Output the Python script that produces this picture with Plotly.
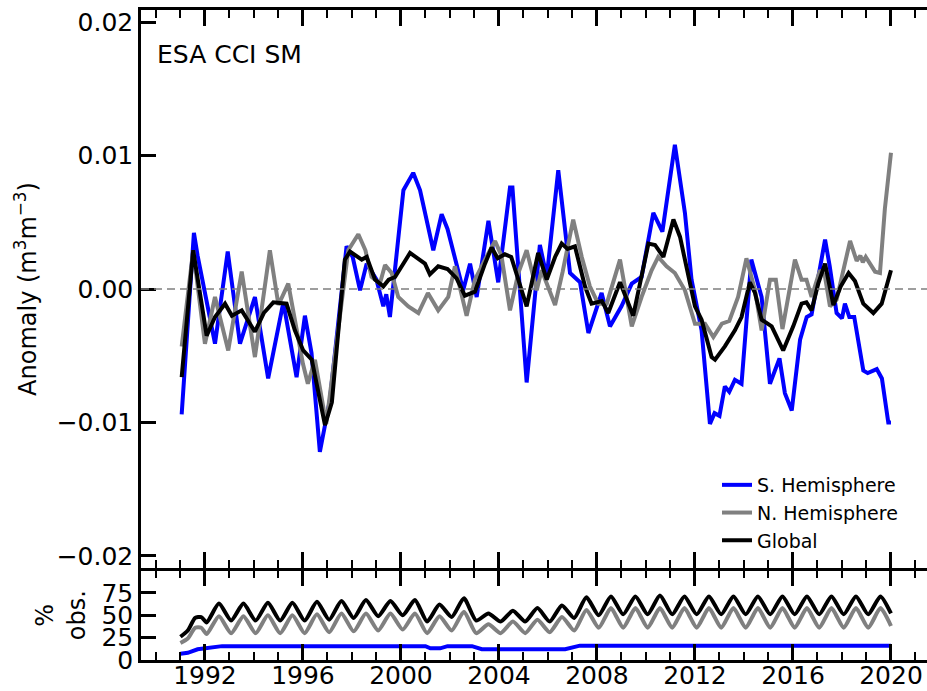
import plotly.graph_objects as go
from plotly.subplots import make_subplots

# ---------------- Data ----------------
sh_years = [1991.05, 1991.55, 1991.7, 1992.41, 1992.93, 1993.43, 1994.04, 1994.58, 1995.2, 1995.74,
            1996.08, 1996.35, 1996.69, 1997.1, 1997.78, 1998.03, 1998.33, 1998.6, 1999.0, 1999.28,
            1999.4, 1999.55, 2000.1, 2000.5, 2000.78, 2001.32, 2001.66, 2001.9, 2002.54, 2002.82,
            2003.09, 2003.57, 2003.97, 2004.45, 2004.55, 2005.13, 2005.67, 2005.95, 2006.42, 2006.9,
            2007.31, 2007.65, 2008.19, 2008.53, 2009.0, 2009.42, 2009.82, 2010.3, 2010.67, 2011.18,
            2011.59, 2011.86, 2012.27, 2012.61, 2012.8, 2013.0, 2013.22, 2013.4, 2013.63, 2013.9,
            2014.3, 2014.72, 2015.06, 2015.45, 2015.67, 2015.95, 2016.29, 2016.56, 2016.76, 2017.31,
            2017.5, 2017.78, 2018.0, 2018.12, 2018.3, 2018.5, 2018.87, 2019.05, 2019.42, 2019.63,
            2019.89, 2020.0]
sh_vals = [-0.0094, 0.0042, 0.0025, -0.0041, 0.0028, -0.0041, -0.0006, -0.0067, -0.0010, -0.0066,
           -0.0020, -0.0048, -0.0122, -0.0083, 0.0032, 0.0024, -0.0001, 0.0019, 0.0007, -0.0013,
           -0.0004, -0.0021, 0.0074, 0.0087, 0.0074, 0.0029, 0.0056, 0.0045, -0.0001, 0.0019,
           -0.0006, 0.0051, 0.0005, 0.0076, 0.0076, -0.0070, 0.0033, 0.0009, 0.0089, 0.0012,
           0.0005, -0.0033, -0.0003, -0.0028, -0.0013, 0.0004, 0.0009, 0.0057, 0.0043, 0.0108,
           0.0057, 0.0007, -0.0031, -0.0101, -0.0093, -0.0095, -0.0073, -0.0077, -0.0068, -0.0071,
           0.0022, -0.0006, -0.0071, -0.0052, -0.0078, -0.0091, -0.0038, -0.0021, -0.0019, 0.0037,
           0.0017, -0.0018, -0.0022, -0.0011, -0.0021, -0.0021, -0.0061, -0.0063, -0.0060, -0.0067,
           -0.0100, -0.0100]

nh_years = [1991.05, 1991.52, 1992.0, 1992.41, 1992.95, 1993.5, 1994.04, 1994.65, 1995.0, 1995.4,
            1996.0, 1996.2, 1996.49, 1996.95, 1997.85, 1998.26, 1998.55, 1998.8, 1999.14, 1999.35,
            1999.62, 1999.89, 2000.3, 2000.71, 2001.1, 2001.52, 2001.93, 2002.2, 2002.68, 2003.02,
            2003.43, 2003.84, 2004.1, 2004.45, 2004.79, 2005.13, 2005.54, 2005.74, 2006.29, 2006.6,
            2007.03, 2007.38, 2007.71, 2008.05, 2008.4, 2008.94, 2009.42, 2009.82, 2010.23, 2010.5,
            2010.84, 2011.18, 2011.59, 2012.0, 2012.41, 2012.75, 2013.1, 2013.4, 2013.76, 2014.1,
            2014.45, 2014.72, 2015.06, 2015.3, 2015.57, 2016.08, 2016.35, 2016.55, 2016.76, 2017.1,
            2017.3, 2017.51, 2017.78, 2018.33, 2018.6, 2018.75, 2018.85, 2018.97, 2019.35, 2019.55,
            2019.75, 2020.0]
nh_vals = [-0.0043, 0.0029, -0.0041, -0.0006, -0.0046, 0.0013, -0.0051, 0.0029, -0.0012, 0.0004,
           -0.0056, -0.0071, -0.0053, -0.0101, 0.0029, 0.0041, 0.0029, 0.0009, 0.0004, 0.0018,
           0.0012, -0.0006, -0.0013, -0.0018, -0.0003, -0.0016, -0.0006, 0.0017, -0.0020, 0.0007,
           0.0022, 0.0036, 0.0025, -0.0016, 0.0012, 0.0029, -0.0001, 0.0014, -0.0012, 0.0013,
           0.0052, 0.0024, 0.0002, -0.0011, -0.0011, 0.0022, -0.0028, -0.0006, 0.0014, 0.0024,
           0.0017, 0.0012, -0.0001, -0.0026, -0.0026, -0.0036, -0.0026, -0.0024, -0.0006, 0.0023,
           -0.0001, -0.0031, 0.0007, 0.0007, -0.0030, 0.0022, 0.0007, 0.0007, -0.0006, 0.0014,
           0.0010, -0.0013, -0.0008, 0.0036, 0.0021, 0.0025, 0.0020, 0.0024, 0.0013, 0.0012,
           0.0060, 0.0102]

gl_years = [1991.05, 1991.52, 1992.07, 1992.41, 1992.82, 1993.1, 1993.5, 1994.04, 1994.4, 1994.79,
            1995.33, 1995.67, 1996.01, 1996.36, 1996.9, 1997.18, 1997.71, 1997.92, 1998.4, 1998.6,
            1998.94, 1999.28, 1999.5, 1999.76, 2000.37, 2000.98, 2001.18, 2001.52, 2001.9, 2002.27,
            2002.61, 2003.02, 2003.43, 2003.7, 2003.95, 2004.24, 2004.5, 2004.79, 2005.13, 2005.6,
            2005.95, 2006.29, 2006.56, 2006.8, 2007.1, 2007.51, 2007.78, 2008.2, 2008.46, 2008.94,
            2009.48, 2010.1, 2010.37, 2010.71, 2011.12, 2011.39, 2011.73, 2012.0, 2012.27, 2012.68,
            2012.82, 2013.22, 2013.63, 2013.9, 2014.24, 2014.45, 2014.72, 2015.13, 2015.6, 2016.01,
            2016.35, 2016.55, 2016.76, 2017.03, 2017.31, 2017.65, 2017.95, 2018.27, 2018.53, 2018.87,
            2019.28, 2019.62, 2020.0]
gl_vals = [-0.0066, 0.0029, -0.0035, -0.0021, -0.0011, -0.0020, -0.0016, -0.0032, -0.0018, -0.0010,
           -0.0011, -0.0031, -0.0046, -0.0053, -0.0102, -0.0085, 0.0022, 0.0028, 0.0022, 0.0024,
           0.0007, 0.0002, 0.0007, 0.0009, 0.0027, 0.0019, 0.0011, 0.0017, 0.0015, 0.0008,
           -0.0005, -0.0002, 0.0019, 0.0031, 0.0023, 0.0026, 0.0024, 0.0008, -0.0013, 0.0027,
           0.0007, 0.0024, 0.0034, 0.0030, 0.0032, 0.0002, -0.0011, -0.0009, -0.0018, 0.0005,
           -0.0020, 0.0034, 0.0033, 0.0024, 0.0052, 0.0039, 0.0009, -0.0013, -0.0023, -0.0051,
           -0.0053, -0.0043, -0.0031, -0.0021, 0.0005, -0.0003, -0.0023, -0.0028, -0.0046, -0.0028,
           -0.0011, -0.0010, -0.0016, 0.0004, 0.0019, -0.0012, 0.0002, 0.0012, 0.0006, -0.0011,
           -0.0018, -0.0011, 0.0014]

# % observations panel
obs_years = [1991.0, 1991.3, 1991.6, 1991.85,
             1992.07, 1992.57, 1993.07, 1993.57, 1994.07, 1994.57, 1995.07, 1995.57,
             1996.07, 1996.57, 1997.07, 1997.57, 1998.07, 1998.57, 1999.07, 1999.57,
             2000.07, 2000.57, 2001.07, 2001.57, 2002.07, 2002.57, 2003.07, 2003.57,
             2004.07, 2004.57, 2005.07, 2005.57, 2006.07, 2006.57, 2007.07, 2007.57,
             2008.07, 2008.57, 2009.07, 2009.57, 2010.07, 2010.57, 2011.07, 2011.57,
             2012.07, 2012.57, 2013.07, 2013.57, 2014.07, 2014.57, 2015.07, 2015.57,
             2016.07, 2016.57, 2017.07, 2017.57, 2018.07, 2018.57, 2019.07, 2019.57,
             2020.0]
gl_obs = [26, 33, 47, 48,
          42, 63, 44, 63, 44, 64, 44, 64,
          44, 65, 45, 66, 47, 67, 49, 66,
          50, 67, 43, 62, 48, 69, 44, 52,
          43, 55, 43, 58, 43, 61, 47, 70,
          50, 71, 51, 71, 51, 72, 51, 71,
          51, 71, 51, 71, 51, 71, 51, 71,
          51, 71, 51, 71, 51, 71, 51, 71,
          52]
nh_obs = [19, 24, 36, 36,
          29, 49, 30, 49, 30, 50, 30, 50,
          30, 51, 31, 52, 32, 52, 33, 52,
          34, 52, 30, 49, 33, 54, 30, 40,
          30, 43, 30, 45, 31, 48, 33, 56,
          36, 58, 36, 58, 36, 58, 36, 58,
          36, 58, 36, 58, 36, 58, 36, 58,
          36, 58, 36, 58, 36, 58, 36, 58,
          38]
sh_obs_years = [1991.0, 1991.3, 1991.7, 1992.2, 1992.7, 2001.0, 2001.2, 2001.6, 2001.9,
                2002.9, 2003.3, 2006.7, 2007.3, 2020.0]
sh_obs = [7, 8, 12, 14, 15.5, 15.5, 13, 13, 15.5, 15.5, 12, 12, 16, 16]

y_tickvals = [-0.02, -0.01, 0.0, 0.01, 0.02]
y_ticktext = ["\u22120.02", "\u22120.01", "0.00", "0.01", "0.02"]
obs_tickvals = [0, 25, 50, 75]
x_tickvals = [1992, 1996, 2000, 2004, 2008, 2012, 2016, 2020]

C_SH = "#0000ff"
C_NH = "#808080"
C_GL = "#000000"
FONT = "DejaVu Sans"
LW = 4
AXW = 2.5

fig = make_subplots(rows=2, cols=1, shared_xaxes=True, vertical_spacing=0)

fig.add_trace(go.Scatter(x=sh_years, y=sh_vals, mode="lines", name="S. Hemisphere",
                         line=dict(color=C_SH, width=LW)), row=1, col=1)
fig.add_trace(go.Scatter(x=nh_years, y=nh_vals, mode="lines", name="N. Hemisphere",
                         line=dict(color=C_NH, width=LW)), row=1, col=1)
fig.add_trace(go.Scatter(x=gl_years, y=gl_vals, mode="lines", name="Global",
                         line=dict(color=C_GL, width=LW)), row=1, col=1)

fig.add_trace(go.Scatter(x=sh_obs_years, y=sh_obs, mode="lines", showlegend=False,
                         line=dict(color=C_SH, width=LW)), row=2, col=1)
fig.add_trace(go.Scatter(x=obs_years, y=nh_obs, mode="lines", showlegend=False,
                         line=dict(color=C_NH, width=LW, shape="spline", smoothing=0.6)), row=2, col=1)
fig.add_trace(go.Scatter(x=obs_years, y=gl_obs, mode="lines", showlegend=False,
                         line=dict(color=C_GL, width=LW, shape="spline", smoothing=0.6)), row=2, col=1)

fig.add_hline(y=0, line=dict(color="#7f7f7f", width=1.5, dash="8px,5px"), row=1, col=1)

axis_common = dict(showline=True, linecolor="black", linewidth=AXW, ticks="inside",
                   tickcolor="black", tickwidth=AXW, showgrid=False, zeroline=False,
                   automargin=False,
                   tickfont=dict(family=FONT, size=25, color="black"))

x_common = dict(axis_common, range=[1989.39, 2021.47], tickvals=x_tickvals, ticklen=16,
                mirror="allticks", ticklabelstandoff=-9,
                minor=dict(ticks="inside", ticklen=8, tickwidth=2, tickcolor="black",
                           dtick=1, tick0=1990, showgrid=False))
fig.update_xaxes(**x_common)
fig.update_xaxes(showticklabels=False, row=1, col=1)

PH = 650.0
split = 92.0 / PH
fig.update_yaxes(axis_common, row=1, col=1)
fig.update_yaxes(range=[-0.0209, 0.0209], tickvals=y_tickvals, ticktext=y_ticktext,
                 ticklen=15, domain=[split, 1.0],
                 title=dict(text="Anomaly (m<sup>3</sup>m<sup>\u22123</sup>)", standoff=14,
                            font=dict(family=FONT, size=24, color="black")),
                 row=1, col=1)
fig.update_yaxes(axis_common, row=2, col=1)
fig.update_yaxes(range=[0, 100], tickvals=obs_tickvals, ticklen=15,
                 domain=[0, split - AXW / PH],
                 title=dict(text="%<br>obs.", standoff=10,
                            font=dict(family=FONT, size=24, color="black")),
                 row=2, col=1)

fig.add_annotation(text="ESA CCI SM", xref="paper", yref="paper", x=0.0178, y=(660 - 55) / PH,
                   xanchor="left", yanchor="middle", showarrow=False,
                   font=dict(family=FONT, size=25, color="black"))

fig.update_layout(
    width=927, height=691,
    margin=dict(l=141, r=0, t=10, b=31, autoexpand=False),
    paper_bgcolor="white", plot_bgcolor="white",
    font=dict(family=FONT, size=24, color="black"),
    showlegend=True,
    legend=dict(x=(717 - 141) / 786, y=(660 - 466) / PH, xanchor="left", yanchor="top",
                font=dict(family=FONT, size=19, color="black"),
                bgcolor="rgba(0,0,0,0)", tracegroupgap=0),
)

fig.write_html("out.html", config={"displayModeBar": False},
               post_script="document.body.style.margin='0px';")
